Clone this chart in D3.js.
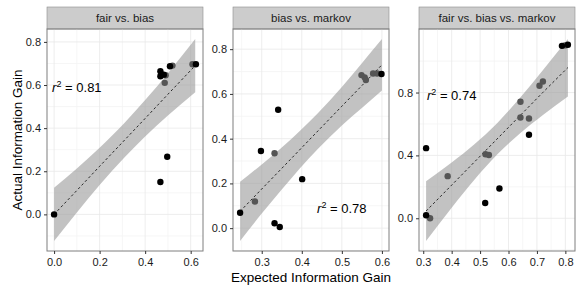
<!DOCTYPE html>
<html>
<head>
<meta charset="utf-8">
<script src="https://cdn.jsdelivr.net/npm/d3@7"></script>
<style>
    body { margin: 0; background: #fff; }
    svg { display: block; font-family: "Liberation Sans", Arial, sans-serif; }
    .tick-label { font-size: 11px; fill: #1a1a1a; }
    .axis-title { font-size: 13.5px; fill: #000; }
    .strip-label { font-size: 11.5px; fill: #1a1a1a; }
    .r2 { font-size: 13px; fill: #000; }
</style>
</head>
<body>
<svg id="chart"></svg>
<script>
// panel titles
const panelTitles = ['fair vs. bias', 'bias vs. markov', 'fair vs. bias vs. markov'];

// fair vs. bias (shade 1 = dark grey point, 0 = black)
const fairBiasX = [0.000, 0.467, 0.497, 0.486, 0.467, 0.482, 0.467, 0.490, 0.509, 0.520, 0.608, 0.623];
const fairBiasY = [0.000, 0.150, 0.267, 0.610, 0.664, 0.648, 0.641, 0.645, 0.687, 0.690, 0.696, 0.696];
const fairBiasShade = [0, 0, 0, 1, 0, 0, 0, 1, 0, 1, 1, 0];

// bias vs. markov
const biasMarkovX = [0.246, 0.283, 0.298, 0.332, 0.341, 0.332, 0.345, 0.401, 0.549, 0.557, 0.560, 0.578, 0.588, 0.599];
const biasMarkovY = [0.069, 0.119, 0.345, 0.335, 0.529, 0.022, 0.005, 0.219, 0.684, 0.674, 0.662, 0.691, 0.691, 0.689];
const biasMarkovShade = [0, 1, 0, 1, 0, 0, 0, 0, 1, 1, 1, 1, 1, 0];

// fair vs. bias vs. markov
const allThreeX = [0.310, 0.310, 0.324, 0.386, 0.518, 0.568, 0.519, 0.531, 0.642, 0.642, 0.672, 0.672, 0.709, 0.721, 0.788, 0.798, 0.809];
const allThreeY = [0.446, 0.019, 0.000, 0.268, 0.097, 0.189, 0.407, 0.403, 0.741, 0.641, 0.635, 0.531, 0.843, 0.870, 1.097, 1.100, 1.104];
const allThreeShade = [0, 0, 1, 1, 0, 0, 1, 1, 1, 1, 1, 0, 1, 1, 0, 1, 0];

// linear fit and its 95% band
const fairBiasBandX = [0.00, 0.10, 0.20, 0.31, 0.40, 0.50, 0.62];
const fairBiasFit = [0.000, 0.111, 0.223, 0.345, 0.445, 0.557, 0.690];
const fairBiasLo = [-0.123, 0.009, 0.136, 0.265, 0.361, 0.459, 0.567];
const fairBiasHi = [0.123, 0.213, 0.309, 0.425, 0.530, 0.655, 0.813];

const biasMarkovBandX = [0.246, 0.30, 0.35, 0.44, 0.50, 0.55, 0.60];
const biasMarkovFit = [0.075, 0.175, 0.267, 0.434, 0.545, 0.637, 0.730];
const biasMarkovLo = [-0.057, 0.065, 0.173, 0.354, 0.459, 0.537, 0.615];
const biasMarkovHi = [0.207, 0.285, 0.361, 0.514, 0.631, 0.737, 0.845];

const allThreeBandX = [0.310, 0.40, 0.48, 0.56, 0.64, 0.72, 0.809];
const allThreeFit = [0.046, 0.211, 0.358, 0.505, 0.652, 0.799, 0.959];
const allThreeLo = [-0.144, 0.067, 0.245, 0.405, 0.539, 0.655, 0.775];
const allThreeHi = [0.236, 0.355, 0.471, 0.605, 0.765, 0.940, 1.140];

// tick breaks per panel
const xBreaks = [[0.0, 0.2, 0.4, 0.6], [0.3, 0.4, 0.5, 0.6], [0.3, 0.4, 0.5, 0.6, 0.7, 0.8]];
const yBreaks = [[0.0, 0.2, 0.4, 0.6, 0.8], [0.0, 0.2, 0.4, 0.6, 0.8], [0.0, 0.4, 0.8]];

// r squared annotations (text + data coords)
const r2Values = ['0.81', '0.78', '0.74'];
const r2X = [0.1, 0.5, 0.4];
const r2Y = [0.6, 0.1, 0.8];

const panels = [
    { x: fairBiasX, y: fairBiasY, shade: fairBiasShade, bx: fairBiasBandX, fit: fairBiasFit, lo: fairBiasLo, hi: fairBiasHi },
    { x: biasMarkovX, y: biasMarkovY, shade: biasMarkovShade, bx: biasMarkovBandX, fit: biasMarkovFit, lo: biasMarkovLo, hi: biasMarkovHi },
    { x: allThreeX, y: allThreeY, shade: allThreeShade, bx: allThreeBandX, fit: allThreeFit, lo: allThreeLo, hi: allThreeHi }
];

const outerWidth = 581;
const outerHeight = 291;
const margin = { top: 29, left: 47, right: 6, bottom: 40 };
const stripHeight = 22;
const gap = 30;
const innerHeight = outerHeight - margin.top - margin.bottom;
const panelWidth = (outerWidth - margin.left - margin.right - gap * 2) / 3;

// ggplot style 5% padding on a continuous range
const expand = ([a, b]) => {
    const pad = (b - a) * 0.05;
    return [a - pad, b + pad];
};

const svg = d3.select('#chart')
    .attr('width', outerWidth)
    .attr('height', outerHeight);

panels.forEach((p, idx) => {
    const points = p.x.map((x, i) => ({ x, y: p.y[i], shade: p.shade[i] }));
    const band = p.bx.map((x, i) => ({ x, fit: p.fit[i], lo: p.lo[i], hi: p.hi[i] }));

    const xScale = d3.scaleLinear()
        .domain(expand(d3.extent(p.x.concat(p.bx))))
        .range([0, panelWidth]);
    const yScale = d3.scaleLinear()
        .domain(expand(d3.extent(p.y.concat(p.lo, p.hi))))
        .range([innerHeight, 0]);

    const left = margin.left + idx * (panelWidth + gap);
    const g = svg.append('g')
        .attr('transform', `translate(${left},${margin.top})`);

    // strip
    g.append('rect')
        .attr('x', 0)
        .attr('y', -stripHeight)
        .attr('width', panelWidth)
        .attr('height', stripHeight)
        .attr('fill', '#cccccc')
        .attr('stroke', '#8c8c8c')
        .attr('stroke-width', 0.6);
    g.append('text')
        .classed('strip-label', true)
        .attr('x', panelWidth / 2)
        .attr('y', -stripHeight / 2 + 4)
        .attr('text-anchor', 'middle')
        .text(panelTitles[idx]);

    // minor grid at the midpoints between breaks (and just outside them when in range)
    const xb = xBreaks[idx], yb = yBreaks[idx];
    const xStep = xb[1] - xb[0], yStep = yb[1] - yb[0];
    const xd = xScale.domain(), yd = yScale.domain();
    const xMinor = [xb[0] - xStep / 2].concat(xb.map(v => v + xStep / 2)).filter(v => v > xd[0] && v < xd[1]);
    const yMinor = [yb[0] - yStep / 2].concat(yb.map(v => v + yStep / 2)).filter(v => v > yd[0] && v < yd[1]);

    g.selectAll('.grid-minor-x')
        .data(xMinor)
        .join('line')
            .attr('x1', d => xScale(d)).attr('x2', d => xScale(d))
            .attr('y1', 0).attr('y2', innerHeight)
            .attr('stroke', '#f4f4f4').attr('stroke-width', 0.8);
    g.selectAll('.grid-minor-y')
        .data(yMinor)
        .join('line')
            .attr('y1', d => yScale(d)).attr('y2', d => yScale(d))
            .attr('x1', 0).attr('x2', panelWidth)
            .attr('stroke', '#f4f4f4').attr('stroke-width', 0.8);
    g.selectAll('.grid-major-x')
        .data(xb)
        .join('line')
            .attr('x1', d => xScale(d)).attr('x2', d => xScale(d))
            .attr('y1', 0).attr('y2', innerHeight)
            .attr('stroke', '#e8e8e8').attr('stroke-width', 0.8);
    g.selectAll('.grid-major-y')
        .data(yb)
        .join('line')
            .attr('y1', d => yScale(d)).attr('y2', d => yScale(d))
            .attr('x1', 0).attr('x2', panelWidth)
            .attr('stroke', '#e8e8e8').attr('stroke-width', 0.8);

    // confidence ribbon
    g.append('path')
        .datum(band)
        .attr('fill', '#999999')
        .attr('fill-opacity', 0.6)
        .attr('d', d3.area()
            .curve(d3.curveMonotoneX)
            .x(d => xScale(d.x))
            .y0(d => yScale(d.lo))
            .y1(d => yScale(d.hi)));

    // fitted line
    g.append('path')
        .datum(band)
        .attr('fill', 'none')
        .attr('stroke', '#000')
        .attr('stroke-width', 0.8)
        .attr('stroke-dasharray', '2.5,2.5')
        .attr('d', d3.line()
            .x(d => xScale(d.x))
            .y(d => yScale(d.fit)));

    // points: grey first, black on top
    g.selectAll('.pt')
        .data(points.slice().sort((a, b) => b.shade - a.shade))
        .join('circle')
            .attr('cx', d => xScale(d.x))
            .attr('cy', d => yScale(d.y))
            .attr('r', 3.2)
            .attr('fill', d => d.shade ? '#555555' : '#000000');

    // r squared label
    const r2 = g.append('text')
        .classed('r2', true)
        .attr('x', xScale(r2X[idx]))
        .attr('y', yScale(r2Y[idx]) + 7)
        .attr('text-anchor', 'middle');
    r2.append('tspan').style('font-style', 'italic').text('r');
    r2.append('tspan').attr('dy', -5).style('font-size', '9px').text('2');
    r2.append('tspan').attr('dy', 5).text(' = ' + r2Values[idx]);

    // panel border
    g.append('rect')
        .attr('width', panelWidth)
        .attr('height', innerHeight)
        .attr('fill', 'none')
        .attr('stroke', '#7f7f7f')
        .attr('stroke-width', 1);

    // axes
    const xAxis = d3.axisBottom(xScale)
        .tickValues(xb)
        .tickFormat(d3.format('.1f'))
        .tickSize(3)
        .tickPadding(4);
    const xg = g.append('g')
        .attr('transform', `translate(0,${innerHeight})`)
        .call(xAxis);
    const yAxis = d3.axisLeft(yScale)
        .tickValues(yb)
        .tickFormat(d3.format('.1f'))
        .tickSize(3)
        .tickPadding(3);
    const yg = g.append('g').call(yAxis);
    [xg, yg].forEach(a => {
        a.select('.domain').remove();
        a.selectAll('.tick line').attr('stroke', '#333');
        a.selectAll('.tick text')
            .classed('tick-label', true)
            .attr('fill', null);
        a.attr('font-size', null).attr('font-family', null);
    });
});

// axis titles
svg.append('text')
    .classed('axis-title', true)
    .attr('x', (margin.left + outerWidth - margin.right) / 2)
    .attr('y', outerHeight - 9)
    .attr('text-anchor', 'middle')
    .text('Expected Information Gain');

svg.append('text')
    .classed('axis-title', true)
    .attr('transform', `translate(21.5,${margin.top + innerHeight / 2}) rotate(-90)`)
    .attr('text-anchor', 'middle')
    .text('Actual Information Gain');
</script>
</body>
</html>
